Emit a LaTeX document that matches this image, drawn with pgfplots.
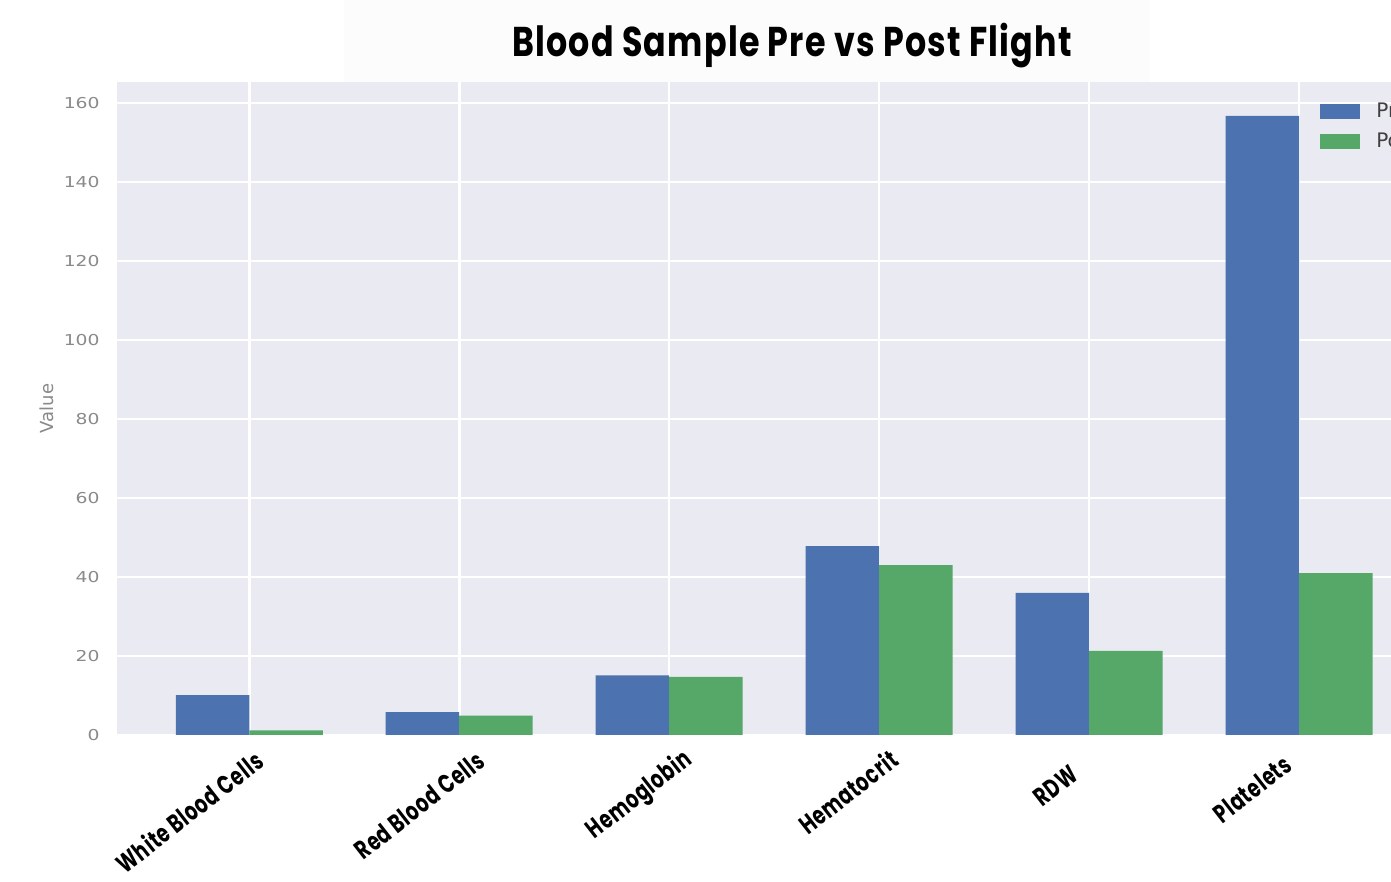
\documentclass[border=0pt]{standalone}
\usepackage{pgfplots}
\pgfplotsset{compat=1.18}
\usepackage{fontspec}
\setmainfont{Poppins}
\setsansfont{DejaVu Sans}
\newfontfamily\titlefont{Poppins}[FakeStretch=0.8, LetterSpace=3]
\newfontfamily\labelfont{Poppins}[FakeStretch=0.72, LetterSpace=3]
\definecolor{sbblue}{HTML}{4C72B0}
\definecolor{sbgreen}{HTML}{55A868}
\definecolor{sbbg}{HTML}{EAEAF2}
\definecolor{tickgray}{HTML}{8A8A8A}
\begin{document}
\begin{tikzpicture}
\useasboundingbox (0,0) rectangle (695.5pt,441pt);
\clip (0,0) rectangle (695.5pt,441pt);
\fill[white] (0,0) rectangle (695.5pt,441pt);
\fill[black!1] (172pt,400pt) rectangle (575pt,441pt);
\begin{axis}[
  at={(58.5pt,73.5pt)}, anchor=south west,
  scale only axis, width=685.5pt, height=326.5pt,
  xmin=-0.63, xmax=5.9, ymin=0, ymax=165.3,
  clip=false,
  axis background/.style={fill=sbbg},
  axis line style={draw=none},
  major tick length=0pt,
  grid=major, major grid style={white, line width=1.3pt},
  xtick={0,1,2,3,4,5},
  xticklabels={},
  ytick={0,20,40,60,80,100,120,140,160},
  yticklabel style={font=\sffamily\fontsize{7.5}{8}\selectfont, text=tickgray, xshift=-4.3pt, xscale=1.25},
  /pgf/number format/assume math mode=true,
  ylabel={Value},
  ylabel style={font=\sffamily\fontsize{9}{10}\selectfont, text=tickgray, at={(axis description cs:-0.051,0.5)}, anchor=center},
  legend style={at={(axis description cs:0.873,0.98)}, anchor=north west, draw=none, fill=none, font=\sffamily\fontsize{10}{11}\selectfont, text=black!75, row sep=3pt, /tikz/every even column/.append style={column sep=0pt}},
  legend cell align=left,
  legend image code/.code={\fill[#1] (0pt,-3.75pt) rectangle (20pt,3.75pt);},
  legend style={nodes={inner sep=1.5pt}},
]
\addplot[ybar, bar width=0.35, bar shift=-0.175, fill=sbblue, draw=none] coordinates {
  (0,10.1) (1,5.8) (2,15.1) (3,47.8) (4,36.0) (5,156.7)
};
\addlegendentry{\hspace{6.5pt}Pre Flight}
\addplot[ybar, bar width=0.35, bar shift=0.175, fill=sbgreen, draw=none] coordinates {
  (0,1.2) (1,4.9) (2,14.7) (3,43.0) (4,21.3) (5,41.0)
};
\addlegendentry{\hspace{6.5pt}Post Flight}
\tikzset{xl/.style={rotate=38, anchor=north east, inner sep=0.333em, font=\labelfont\bfseries\fontsize{13}{15}\selectfont}}
\node[xl, xshift=0.5pt, yshift=-3pt] at (axis cs:0,0) {White Blood Cells};
\node[xl, xshift=5pt, yshift=-7pt] at (axis cs:1,0) {Red Blood Cells};
\node[xl, xshift=4.5pt, yshift=-4.5pt] at (axis cs:2,0) {Hemoglobin};
\node[xl, xshift=3pt, yshift=-4pt] at (axis cs:3,0) {Hematocrit};
\node[xl, xshift=-13.5pt, yshift=-1.5pt] at (axis cs:4,0) {RDW};
\node[xl, xshift=-9pt, yshift=1.5pt] at (axis cs:5,0) {Platelets};
\end{axis}
\node[font=\titlefont\bfseries\fontsize{20.8}{24}\selectfont, anchor=base] at (396pt,412.5pt) {Blood Sample Pre vs Post Flight};
\end{tikzpicture}
\end{document}
